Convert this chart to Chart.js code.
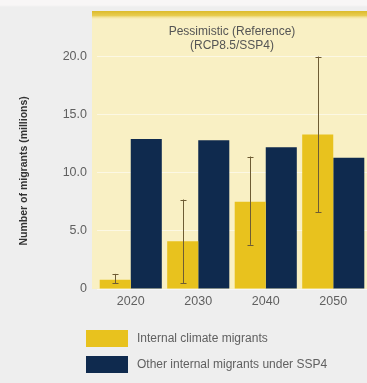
<!DOCTYPE html>
<html>
<head>
<meta charset="utf-8">
<script src="https://cdn.jsdelivr.net/npm/chart.js@4/dist/chart.umd.min.js"></script>
<style>
  html, body { margin: 0; padding: 0; }
  body {
    width: 367px; height: 383px; overflow: hidden;
    background: linear-gradient(#f8f6f6 0px, #f8f6f6 5px, #eeeeee 7px);
    position: relative;
    font-family: "Liberation Sans", Arial, sans-serif;
  }
  #wrap { position: absolute; left: 0; top: 0; width: 367px; height: 383px; }
  #legend { position: absolute; left: 86px; top: 329px; }
  .item { display: flex; align-items: center; height: 18px; margin-bottom: 8px; }
  .sw { width: 42px; height: 17px; margin-right: 9px; }
  .lbl { font-size: 12px; color: #606060; white-space: nowrap; }
</style>
</head>
<body>
<div id="wrap"><canvas id="c" width="367" height="383"></canvas></div>
<div id="legend"></div>
<script>
// Internal migration projections, pessimistic (reference) scenario
const years = ['2020', '2030', '2040', '2050'];
const climateMigrants = [0.8, 4.1, 7.5, 13.3];
const climateLow = [0.5, 0.5, 3.8, 6.6];
const climateHigh = [1.3, 7.7, 11.4, 20.0];
const otherMigrants = [12.9, 12.8, 12.2, 11.3];
const seriesNames = ['Internal climate migrants', 'Other internal migrants under SSP4'];
const titleLines = ['Pessimistic (Reference)', '(RCP8.5/SSP4)'];
const yTickValues = [0, 5, 10, 15, 20];

const GOLD = '#e8c21e';
const NAVY = '#0f2a4e';

// Pale yellow panel behind the plot and title, with a gold rule on top
const panelPlugin = {
  id: 'panel',
  beforeDraw(chart) {
    const { ctx, chartArea } = chart;
    const left = chartArea.left - 5;
    const right = chart.width;
    const top = 11;
    ctx.save();
    ctx.fillStyle = '#f9f0c4';
    ctx.fillRect(left, top, right - left, chartArea.bottom - top);
    const g = ctx.createLinearGradient(0, top, 0, top + 9);
    g.addColorStop(0, '#dcbb2c');
    g.addColorStop(0.5, '#e8cc50');
    g.addColorStop(1, 'rgba(249,240,196,0)');
    ctx.fillStyle = g;
    ctx.fillRect(left, top, right - left, 9);
    ctx.restore();
  }
};

// Uncertainty ranges on the climate-migrant bars
const errorBarPlugin = {
  id: 'errorBars',
  afterDatasetsDraw(chart) {
    const { ctx } = chart;
    const meta = chart.getDatasetMeta(0);
    const y = chart.scales.y;
    ctx.save();
    ctx.strokeStyle = '#6e5c34';
    ctx.lineWidth = 1;
    meta.data.forEach((bar, i) => {
      const x = Math.round(bar.x) + 0.5;
      const yLo = y.getPixelForValue(climateLow[i]);
      const yHi = y.getPixelForValue(climateHigh[i]);
      ctx.beginPath();
      ctx.moveTo(x, yLo); ctx.lineTo(x, yHi);
      ctx.moveTo(x - 3, Math.round(yHi) + 0.5); ctx.lineTo(x + 3, Math.round(yHi) + 0.5);
      ctx.moveTo(x - 3, Math.round(yLo) + 0.5); ctx.lineTo(x + 3, Math.round(yLo) + 0.5);
      ctx.stroke();
    });
    ctx.restore();
  }
};

const tickFont = { family: '"Liberation Sans", Arial, sans-serif', size: 12.5 };

new Chart(document.getElementById('c'), {
  type: 'bar',
  data: {
    labels: years,
    datasets: [
      { label: seriesNames[0], data: climateMigrants, backgroundColor: GOLD },
      { label: seriesNames[1], data: otherMigrants, backgroundColor: NAVY }
    ]
  },
  options: {
    responsive: false,
    animation: false,
    layout: { padding: { left: 0, right: 0, top: 0, bottom: 74 } },
    datasets: { bar: { categoryPercentage: 0.92, barPercentage: 1.0 } },
    plugins: {
      legend: { display: false },
      tooltip: { enabled: false },
      title: {
        display: true,
        fullSize: false,
        text: titleLines,
        color: '#555',
        font: { family: '"Liberation Sans", Arial, sans-serif', size: 12, weight: 'normal', lineHeight: 1.15 },
        padding: { top: 25, bottom: 0 }
      }
    },
    scales: {
      x: {
        grid: { display: false, drawTicks: false },
        border: { display: false },
        ticks: { color: '#606060', font: tickFont, padding: 5 },
        afterFit(s) { s.height = 20; }
      },
      y: {
        min: 0,
        max: 20.34,
        grid: { color: 'rgba(255,255,255,0.55)', drawTicks: false },
        border: { display: false },
        afterBuildTicks(s) { s.ticks = yTickValues.map(v => ({ value: v })); },
        afterFit(s) { s.width = 97; },
        ticks: {
          color: '#606060',
          font: tickFont,
          padding: 10,
          callback: v => (v === 0 ? '0' : v.toFixed(1))
        },
        title: {
          display: true,
          text: 'Number of migrants (millions)',
          color: '#333',
          font: { family: '"Liberation Sans", Arial, sans-serif', size: 10.5, weight: 'bold' },
          padding: { top: 18, bottom: 0 }
        }
      }
    }
  },
  plugins: [panelPlugin, errorBarPlugin]
});

// Legend below the chart
const legend = document.getElementById('legend');
[GOLD, NAVY].forEach((c, i) => {
  const item = document.createElement('div');
  item.className = 'item';
  const sw = document.createElement('div');
  sw.className = 'sw';
  sw.style.background = c;
  const lbl = document.createElement('span');
  lbl.className = 'lbl';
  lbl.textContent = seriesNames[i];
  item.appendChild(sw);
  item.appendChild(lbl);
  legend.appendChild(item);
});
</script>
</body>
</html>
